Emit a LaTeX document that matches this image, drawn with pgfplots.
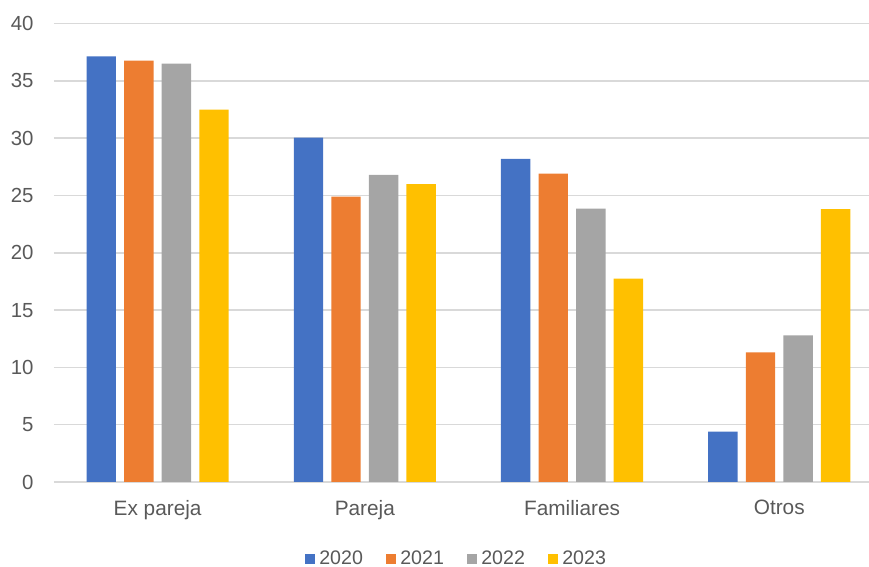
\documentclass[border=0pt]{standalone}
\usepackage{fontspec}
\setmainfont{Liberation Sans}
\usepackage{pgfplots}
\pgfplotsset{compat=1.18}
\definecolor{c1}{HTML}{4472C4}
\definecolor{c2}{HTML}{ED7D31}
\definecolor{c3}{HTML}{A5A5A5}
\definecolor{c4}{HTML}{FFC000}
\definecolor{txt}{HTML}{595959}
\definecolor{gridc}{HTML}{D9D9D9}
\begin{document}
\begin{tikzpicture}
\useasboundingbox (-27pt,-42.5pt) rectangle (407.5pt,241pt);
\begin{axis}[
  at={(0,0)}, anchor=south west,
  scale only axis, width=407.5pt, height=229.2pt,
  xmin=-0.5, xmax=3.433, ymin=0, ymax=40,
  xtick={0,1,2,3},
  xticklabels={Ex pareja, Pareja, Familiares, Otros},
  ytick={0,5,...,40},
  axis x line*=bottom, axis y line*=left,
  axis line style={-},
  x axis line style={gridc, line width=0.75pt},
  y axis line style={draw=none},
  major tick length=0pt,
  tick style={draw=none},
  ymajorgrids, grid style={gridc, line width=0.75pt},
  /pgf/number format/assume math mode=true,
  ticklabel style={font=\fontsize{10.2}{12}\selectfont, text=txt},
  yticklabel style={xshift=-6.7pt},
  xticklabel style={yshift=-5.5pt, font=\fontsize{10.4}{12}\selectfont},
  legend style={at={(0.495,-0.168)}, anchor=center, draw=none, fill=none,
    legend columns=4, font=\fontsize{9.8}{12}\selectfont, text=txt,
    /tikz/every even column/.append style={column sep=9.5pt},
    /tikz/every odd column/.append style={column sep=0pt}},
  legend image code/.code={\fill[#1] (0pt,-2.6pt) rectangle (5.2pt,2.6pt);},
]
\addplot[ybar, fill=c1, draw=none, bar width=0.142, bar shift=-0.272]
  coordinates {(0,37.15) (1,30.05) (2,28.2) (3,4.4)};
\addplot[ybar, fill=c2, draw=none, bar width=0.142, bar shift=-0.0907]
  coordinates {(0,36.77) (1,24.9) (2,26.9) (3,11.3)};
\addplot[ybar, fill=c3, draw=none, bar width=0.142, bar shift=0.0907]
  coordinates {(0,36.5) (1,26.8) (2,23.85) (3,12.8)};
\addplot[ybar, fill=c4, draw=none, bar width=0.142, bar shift=0.272]
  coordinates {(0,32.5) (1,26.0) (2,17.75) (3,23.8)};
\legend{2020,2021,2022,2023}
\end{axis}
\end{tikzpicture}
\end{document}
